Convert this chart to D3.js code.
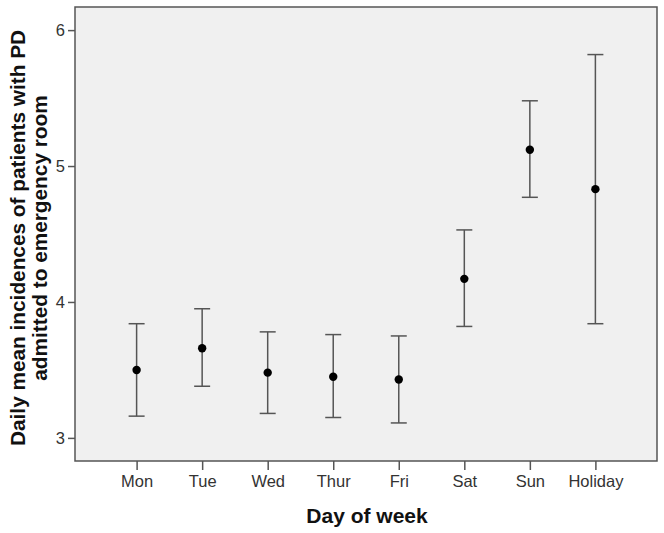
<!DOCTYPE html>
<html><head><meta charset="utf-8">
<script src="https://cdn.jsdelivr.net/npm/d3@7"></script>
<style>body{margin:0;background:#fff;}svg{display:block;}</style>
</head><body>
<script>
const categories = ["Mon","Tue","Wed","Thur","Fri","Sat","Sun","Holiday"];
const means = [3.50, 3.66, 3.48, 3.45, 3.43, 4.17, 5.12, 4.83];
const upper = [3.84, 3.95, 3.78, 3.76, 3.75, 4.53, 5.48, 5.82];
const lower = [3.16, 3.38, 3.18, 3.15, 3.11, 3.82, 4.77, 3.84];
const yTicks = [3, 4, 5, 6];

const W = 664, H = 533;
const m = {left: 75, right: 7, top: 7, bottom: 72};
const svg = d3.select("body").append("svg").attr("width", W).attr("height", H);

const x = d3.scalePoint().domain(categories).range([m.left, W - m.right]).padding(0.94);
const y = d3.scaleLinear().domain([2.83, 6.17]).range([H - m.bottom, m.top]);

svg.append("rect").attr("x", m.left).attr("y", m.top)
  .attr("width", W - m.right - m.left).attr("height", H - m.bottom - m.top)
  .attr("fill", "#f0f0f0").attr("stroke", "#555").attr("stroke-width", 1.5);

const gx = svg.append("g").attr("transform", `translate(0,${H - m.bottom})`)
  .call(d3.axisBottom(x).tickSize(9).tickPadding(5));
const gy = svg.append("g").attr("transform", `translate(${m.left},0)`)
  .call(d3.axisLeft(y).tickValues(yTicks).tickFormat(d3.format("d")).tickSize(7).tickPadding(3));
[gx, gy].forEach(g => {
  g.select(".domain").remove();
  g.selectAll(".tick line").attr("stroke", "#555").attr("stroke-width", 1.5);
  g.selectAll(".tick text").attr("fill", "#333").style("font-family", "Liberation Sans, Arial, sans-serif").style("font-size", "16.5px");
});

const cap = 8;
const g = svg.append("g");
categories.forEach((c, i) => {
  const cx = x(c);
  g.append("line").attr("x1", cx).attr("x2", cx).attr("y1", y(lower[i])).attr("y2", y(upper[i]))
    .attr("stroke", "#555").attr("stroke-width", 1.5);
  [lower[i], upper[i]].forEach(v => {
    g.append("line").attr("x1", cx - cap).attr("x2", cx + cap).attr("y1", y(v)).attr("y2", y(v))
      .attr("stroke", "#555").attr("stroke-width", 1.5);
  });
  g.append("circle").attr("cx", cx).attr("cy", y(means[i])).attr("r", 4.2).attr("fill", "#000");
});

svg.append("text").attr("x", (m.left + W - m.right) / 2 + 1).attr("y", 523)
  .attr("text-anchor", "middle").style("font-family", "Liberation Sans, Arial, sans-serif")
  .style("font-size", "21px").style("font-weight", "bold").attr("fill", "#111").text("Day of week");

const yc = 238;
const yt = svg.append("text").attr("transform", `translate(25,${yc}) rotate(-90)`)
  .attr("text-anchor", "middle").style("font-family", "Liberation Sans, Arial, sans-serif")
  .style("font-size", "20.8px").style("font-weight", "bold").attr("fill", "#111");
yt.append("tspan").attr("x", 0).attr("y", 0).text("Daily mean incidences of patients with PD");
yt.append("tspan").attr("x", 0).attr("y", 22).text("admitted to emergency room");
</script>
</body></html>
